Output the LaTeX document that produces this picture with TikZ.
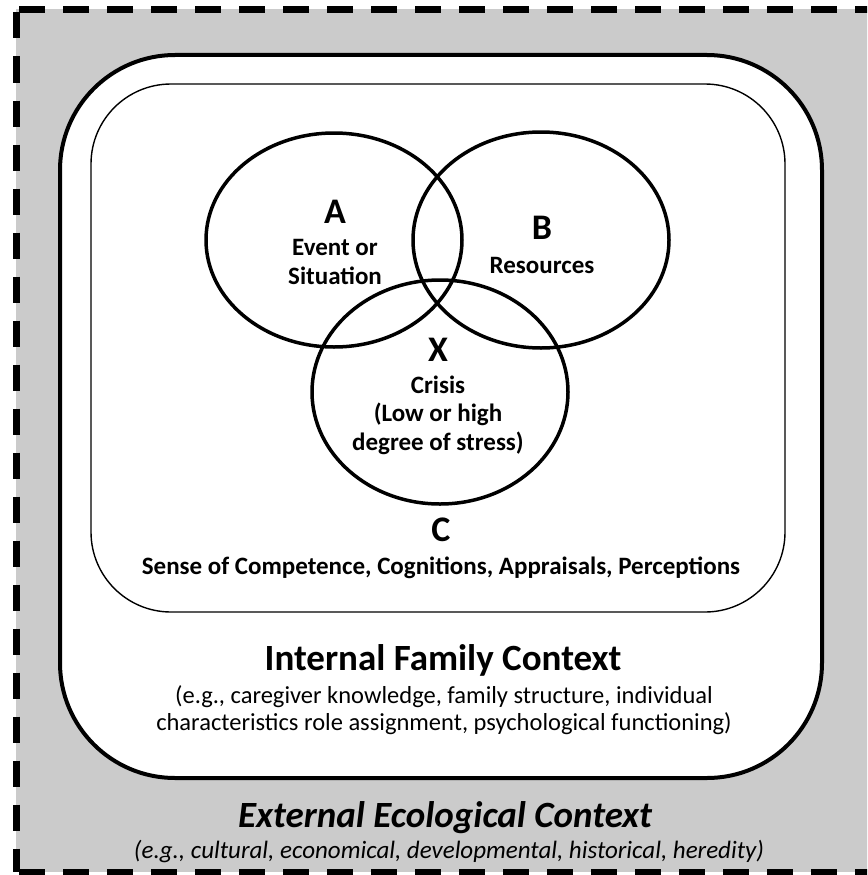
\documentclass[tikz,border=0pt]{standalone}
\usepackage{fontspec}
\setmainfont{Carlito}
\definecolor{bggrey}{HTML}{CBCBCB}
\begin{document}
\begin{tikzpicture}[x=1pt,y=-1pt,
  venn/.style={draw=black,line width=3.5pt},
  lbl/.style={font=\bfseries\fontsize{25}{28.5}\selectfont,align=center,inner sep=0pt},
  biglbl/.style={font=\bfseries\fontsize{36}{40}\selectfont,inner sep=0pt},
  txt/.style={font=\fontsize{24.5}{26.5}\selectfont,align=center,inner sep=0pt}]
\useasboundingbox (0,0) rectangle (867,875);
\clip (0,0) rectangle (867,875);
% external context
\path[fill=bggrey] (16,9.5) rectangle (900,872);
\draw[line width=7pt,dash pattern=on 26pt off 18pt,dash phase=-3pt] (16,9.5) -- (900,9.5);
\draw[line width=7pt,dash pattern=on 26pt off 18pt,dash phase=-3pt] (16,9.5) -- (16,872);
\draw[line width=7pt,dash pattern=on 26pt off 18pt,dash phase=-3pt] (16,872) -- (900,872);
% internal family context
\node[draw=black,fill=white,line width=4pt,rounded corners=115pt,minimum width=762pt,minimum height=723pt,inner sep=0pt] (outer) at (441,416.5) {};
% perceptions box
\node[draw=black,fill=white,line width=1.4pt,rounded corners=80pt,minimum width=694pt,minimum height=528pt,inner sep=0pt] (inner) at (438,348) {};
% Venn ellipses
\draw[venn] (334,240) ellipse [x radius=128, y radius=107];
\draw[venn] (541,240) ellipse [x radius=128, y radius=108];
\draw[venn] (440,392) ellipse [x radius=128, y radius=112];
% labels
\node[biglbl] (a) at (335,212) {A};
\node[lbl] (at) at (335,262) {Event or\\Situation};
\node[biglbl] (b) at (542,228) {B};
\node[lbl] (bt) at (542,265) {Resources};
\node[biglbl] (x) at (438,350) {X};
\node[lbl] (xt) at (438,415) {Crisis\\(Low or high\\degree of stress)};
\node[biglbl] (c) at (441,530) {C};
\node[lbl] (ct) at (441,568) {Sense of Competence, Cognitions, Appraisals, Perceptions};
\node[font=\bfseries\fontsize{37}{42}\selectfont,inner sep=0pt] (ift) at (443,660) {Internal Family Context};
\node[txt] (ifd) at (444,710) {(e.g., caregiver knowledge, family structure, individual\\characteristics role assignment, psychological functioning)};
\node[font=\bfseries\itshape\fontsize{37}{42}\selectfont,inner sep=0pt] (eet) at (445,818) {External Ecological Context};
\node[font=\itshape\fontsize{25}{28}\selectfont,inner sep=0pt] (eed) at (449,852) {(e.g., cultural, economical, developmental, historical, heredity)};
\end{tikzpicture}
\end{document}
